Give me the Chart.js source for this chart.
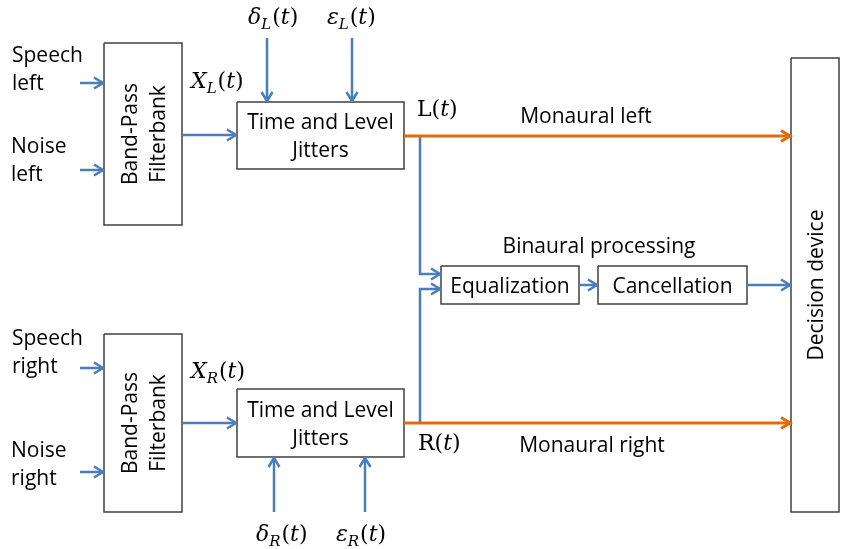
<!DOCTYPE html>
<html>
<head>
<meta charset="utf-8">
<script src="https://cdn.jsdelivr.net/npm/chart.js@4.4.1/dist/chart.umd.min.js"></script>
<style>
  html, body { margin: 0; padding: 0; background: #fff; }
  #wrap { width: 843px; height: 549px; position: relative; }
</style>
</head>
<body>
<div id="wrap"><canvas id="diagram"></canvas></div>
<script>
// diagram units: x 0..843 left to right, y 0..549 top to bottom

// blocks
const blockText = [
    ['Band-Pass', 'Filterbank'], ['Band-Pass', 'Filterbank'],
    ['Time and Level', 'Jitters'], ['Time and Level', 'Jitters'],
    ['Equalization'], ['Cancellation'], ['Decision device']
];
const blockVertical = [true, true, false, false, false, false, true];
const blockLeft = [104, 104, 237, 237, 441, 598, 791];
const blockTop = [43, 334, 102, 389, 266, 266, 58];
const blockRight = [182, 182, 404, 404, 579, 747, 839];
const blockBottom = [225, 512, 169, 457, 304, 304, 512];

// blue signal paths, last point is the arrow tip (null tip = no arrow)
const bluePaths = [
    [[80, 83], [104, 83]],
    [[80, 170], [104, 170]],
    [[80, 368], [104, 368]],
    [[80, 472], [104, 472]],
    [[182, 135], [237, 135]],
    [[182, 423], [237, 423]],
    [[267, 38], [267, 102]],
    [[352, 38], [352, 102]],
    [[274, 512], [274, 457]],
    [[365, 512], [365, 457]],
    [[420, 136], [420, 274], [441, 274]],
    [[420, 423], [420, 289], [441, 289]],
    [[579, 285], [598, 285]],
    [[747, 285], [791, 285]]
];
// orange monaural paths
const orangePaths = [
    [[404, 136], [791, 136]],
    [[404, 423], [791, 423]]
];

// plain text labels (left aligned unless centred)
const textLabels = ['Speech', 'left', 'Noise', 'left', 'Speech', 'right', 'Noise', 'right',
    'Monaural left', 'Binaural processing', 'Monaural right'];
const textX = [12, 12, 11, 11, 12, 12, 11, 11, 586, 599, 592];
const textY = [62, 90, 153, 181, 345, 373, 457, 485, 123, 253, 452];
const textCentred = [false, false, false, false, false, false, false, false, true, true, true];

// math labels: symbol, subscript, then "(t)"
const mathSymbol = ['X', 'X', 'δ', 'ε', 'δ', 'ε', 'L', 'R'];
const mathSub = ['L', 'R', 'L', 'L', 'R', 'R', '', ''];
const mathUpright = [false, false, false, false, false, false, true, true];
const mathX = [191, 191, 248, 327, 256, 336, 417, 418];
const mathY = [88, 378, 24, 24, 541, 541, 116, 450];

const BLUE = '#4A7EBB';
const ORANGE = '#E36C0A';
const BOX = '#404040';
const SANS = '"Open Sans", sans-serif';
const SERIF = '"DejaVu Serif", serif';
const FONT_SIZE = 21;
const LINE = 28;

function toPoints(path) {
    return path.map(function(p) { return { x: p[0], y: p[1] }; });
}

let datasets = [];
for (let i = 0; i < blockLeft.length; i++) {
    datasets.push({
        data: toPoints([[blockLeft[i], blockTop[i]], [blockRight[i], blockTop[i]],
            [blockRight[i], blockBottom[i]], [blockLeft[i], blockBottom[i]], [blockLeft[i], blockTop[i]]]),
        borderColor: BOX,
        borderWidth: 1.5,
        order: 2
    });
}
bluePaths.forEach(function(path) {
    datasets.push({ data: toPoints(path), borderColor: BLUE, borderWidth: 2.5, arrow: true, order: 1 });
});
orangePaths.forEach(function(path) {
    datasets.push({ data: toPoints(path), borderColor: ORANGE, borderWidth: 3, arrow: true, order: 0 });
});

const arrowPlugin = {
    id: 'arrowHeads',
    afterDatasetsDraw(chart) {
        const ctx = chart.ctx;
        chart.data.datasets.forEach(function(ds, i) {
            if (!ds.arrow) return;
            const pts = chart.getDatasetMeta(i).data;
            const a = pts[pts.length - 2], b = pts[pts.length - 1];
            const ang = Math.atan2(b.y - a.y, b.x - a.x);
            const len = 10, half = 5.5;
            ctx.save();
            ctx.strokeStyle = ds.borderColor;
            ctx.lineWidth = ds.borderWidth;
            ctx.lineJoin = 'miter';
            ctx.translate(b.x, b.y);
            ctx.rotate(ang);
            ctx.beginPath();
            ctx.moveTo(-len, -half);
            ctx.lineTo(-1, 0);
            ctx.lineTo(-len, half);
            ctx.stroke();
            ctx.restore();
        });
    }
};

const labelPlugin = {
    id: 'diagramLabels',
    afterDraw(chart) {
        const ctx = chart.ctx;
        const sx = chart.scales.x, sy = chart.scales.y;
        ctx.save();
        ctx.fillStyle = '#000';
        ctx.textBaseline = 'alphabetic';

        // captions inside the blocks
        ctx.font = FONT_SIZE + 'px ' + SANS;
        for (let i = 0; i < blockText.length; i++) {
            const cx = sx.getPixelForValue((blockLeft[i] + blockRight[i]) / 2);
            const cy = sy.getPixelForValue((blockTop[i] + blockBottom[i]) / 2);
            const lines = blockText[i];
            ctx.save();
            ctx.translate(cx, cy);
            if (blockVertical[i]) ctx.rotate(-Math.PI / 2);
            ctx.textAlign = 'center';
            lines.forEach(function(t, k) {
                ctx.fillText(t, 0, (k - (lines.length - 1) / 2) * LINE + 0.36 * FONT_SIZE);
            });
            ctx.restore();
        }

        // free text
        for (let i = 0; i < textLabels.length; i++) {
            ctx.textAlign = textCentred[i] ? 'center' : 'left';
            ctx.fillText(textLabels[i], sx.getPixelForValue(textX[i]), sy.getPixelForValue(textY[i]));
        }

        // math labels
        ctx.textAlign = 'left';
        for (let i = 0; i < mathSymbol.length; i++) {
            let x = sx.getPixelForValue(mathX[i]);
            const y = sy.getPixelForValue(mathY[i]);
            ctx.font = (mathUpright[i] ? '' : 'italic ') + '22px ' + SERIF;
            ctx.fillText(mathSymbol[i], x, y);
            x += ctx.measureText(mathSymbol[i]).width;
            if (mathSub[i]) {
                ctx.font = 'italic 15px ' + SERIF;
                ctx.fillText(mathSub[i], x, y + 5);
                x += ctx.measureText(mathSub[i]).width + 1;
            }
            ctx.font = '22px ' + SERIF;
            ctx.fillText('(', x, y);
            x += ctx.measureText('(').width;
            ctx.font = 'italic 22px ' + SERIF;
            ctx.fillText('t', x, y);
            x += ctx.measureText('t').width;
            ctx.font = '22px ' + SERIF;
            ctx.fillText(')', x, y);
        }
        ctx.restore();
    }
};

new Chart(document.getElementById('diagram'), {
    type: 'scatter',
    data: { datasets: datasets },
    options: {
        responsive: true,
        maintainAspectRatio: false,
        animation: false,
        showLine: true,
        elements: {
            point: { radius: 0, hoverRadius: 0 },
            line: { tension: 0, fill: false, borderCapStyle: 'butt' }
        },
        layout: { padding: 0 },
        plugins: {
            legend: { display: false },
            tooltip: { enabled: false }
        },
        scales: {
            x: { type: 'linear', min: 0, max: 843, display: false },
            y: { type: 'linear', min: 0, max: 549, reverse: true, display: false }
        }
    },
    plugins: [arrowPlugin, labelPlugin]
});
</script>
</body>
</html>
